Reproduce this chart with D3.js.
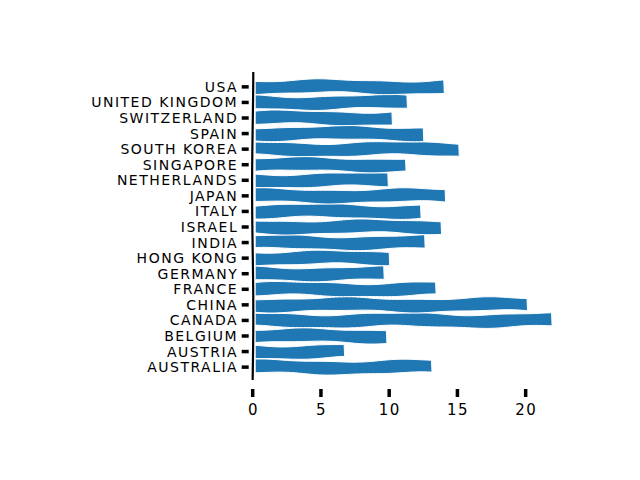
<!DOCTYPE html>
<html>
<head>
<meta charset="utf-8">
<script src="https://cdn.jsdelivr.net/npm/d3@7"></script>
<style>
  body { margin: 0; background: #fff; }
  svg { display: block; }
  text { font-family: "DejaVu Sans", sans-serif; fill: #000; }
</style>
</head>
<body>
<div id="chart"></div>
<script>
// bottom to top, as matplotlib barh draws them
const countries = ["Australia", "Austria", "Belgium", "Canada", "China", "France",
  "Germany", "Hong Kong", "India", "Israel", "Italy", "Japan", "Netherlands",
  "Singapore", "South Korea", "Spain", "Switzerland", "United Kingdom", "USA"];
const values = [13.1, 6.7, 9.8, 21.9, 20.1, 13.4, 9.6, 10.0, 12.6, 13.8, 12.3,
  14.1, 9.9, 11.2, 15.1, 12.5, 10.2, 11.3, 14.0];
const xTicks = [0, 5, 10, 15, 20];

const width = 640, height = 480;

const svg = d3.select("#chart")
  .append("svg")
  .attr("width", width)
  .attr("height", height);

const x = d3.scaleLinear().domain([0, 23]).range([252.7, 566.6]);
const y = d3.scaleLinear().domain([-1.34, 19.34]).range([388, 66]);
const barH = y(0) - y(0.82);

// hand drawn wobble (style only, not data): a shared bend plus a small edge jitter
function bend(p, s) {
  return 1.3 * Math.sin(p / 24 + s * 2.3);
}
function jitter(p, s) {
  return 0.5 * Math.sin(p / 11 + s * 3.7);
}

function sketchBar(x0, x1, yc, h, i) {
  const pts = [];
  const top = yc - h / 2, bot = yc + h / 2;
  const t = (px) => top + bend(px, i) + jitter(px, i * 2);
  const b = (px) => bot + bend(px, i) + jitter(px, i * 2 + 1);
  for (let px = x0; px < x1; px += 4) pts.push([px, t(px)]);
  pts.push([x1, t(x1)]);
  pts.push([x1 + 0.5, b(x1)]);
  for (let px = x1; px > x0; px -= 4) pts.push([px, b(px)]);
  pts.push([x0, b(x0)]);
  return d3.line().curve(d3.curveLinearClosed)(pts);
}

// bars
svg.append("g")
  .selectAll("path")
  .data(values)
  .enter()
  .append("path")
  .attr("d", (d, i) => sketchBar(x(0) + 2.5, x(d), y(i), barH, i))
  .attr("fill", "#1f77b4")
  .attr("stroke", "#fff")
  .attr("stroke-width", 1);

// left spine, slightly wavy
const spinePts = [];
for (let py = y(18.95); py <= y(-1.03); py += 4) {
  spinePts.push([x(0) + 0.6 * Math.sin(py / 40), py]);
}
svg.append("path")
  .attr("d", d3.line().curve(d3.curveBasis)(spinePts))
  .attr("fill", "none")
  .attr("stroke", "#000")
  .attr("stroke-width", 2.2);

// y ticks and labels
const yAxis = svg.append("g");
yAxis.selectAll("line")
  .data(countries)
  .enter()
  .append("line")
  .attr("x1", x(0) - 11).attr("x2", x(0) - 4)
  .attr("y1", (d, i) => y(i)).attr("y2", (d, i) => y(i))
  .attr("stroke", "#000")
  .attr("stroke-width", 3.5);
yAxis.selectAll("text")
  .data(countries)
  .enter()
  .append("text")
  .attr("x", x(0) - 14.5)
  .attr("y", (d, i) => y(i))
  .attr("dy", "0.36em")
  .attr("text-anchor", "end")
  .attr("font-size", 14)
  .attr("letter-spacing", 1.5)
  .text((d) => d.toUpperCase());

// x ticks and labels (bottom spine hidden)
const xAxis = svg.append("g");
xAxis.selectAll("line")
  .data(xTicks)
  .enter()
  .append("line")
  .attr("x1", (d) => x(d)).attr("x2", (d) => x(d))
  .attr("y1", 389).attr("y2", 397)
  .attr("stroke", "#000")
  .attr("stroke-width", 3.5);
xAxis.selectAll("text")
  .data(xTicks)
  .enter()
  .append("text")
  .attr("x", (d) => x(d) + 0.7)
  .attr("y", 410)
  .attr("dy", "0.36em")
  .attr("text-anchor", "middle")
  .attr("font-size", 15)
  .attr("letter-spacing", 1.5)
  .text((d) => d);
</script>
</body>
</html>
